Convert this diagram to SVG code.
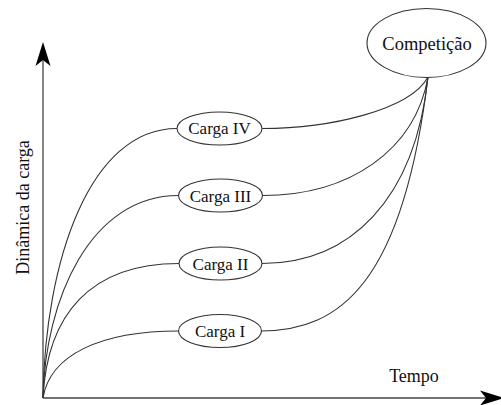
<svg xmlns="http://www.w3.org/2000/svg" width="501" height="405" viewBox="0 0 501 405">
  <defs>
    <style>
      .axis { stroke: #444; stroke-width: 1.3; fill: none; }
      .head { fill: #000; stroke: none; }
      .edge { stroke: #333; stroke-width: 1.1; fill: none; }
      .node ellipse { fill: #fff; stroke: #333; stroke-width: 1.1; }
      .lbl { font-family: "Liberation Serif", "Times New Roman", serif; fill: #111; text-anchor: middle; }
    </style>
  </defs>
  <rect width="501" height="405" fill="#fff"/>

  <!-- axes -->
  <g id="axes">
    <line class="axis" x1="43" y1="398" x2="43" y2="56"/>
    <path class="head" d="M43,42 L50.5,66 L43,60 L35.5,66 Z"/>
    <line class="axis" x1="43" y1="398" x2="490" y2="398"/>
    <path class="head" d="M504,398 L480,390.5 L486,398 L480,405.5 Z"/>
    <text class="lbl" x="414" y="382" font-size="18">Tempo</text>
    <text class="lbl" transform="translate(29,207.5) rotate(-90)" font-size="18">Dinâmica da carga</text>
  </g>

  <!-- connectors: origin to each load, each load to the competition -->
  <g id="connectors">
    <path class="edge" d="M43,398 C50,355 100,331 179,331"/>
    <path class="edge" d="M43,398 C47,315 90,263.5 179,263.5"/>
    <path class="edge" d="M43,398 C45,300 90,195.5 178.5,195.5"/>
    <path class="edge" d="M43,398 C45,260 90,128.5 177,128.5"/>
    <path class="edge" d="M261,331 C340,331 403,283 428,77"/>
    <path class="edge" d="M262,263.5 C350,263.5 415,200 428,77"/>
    <path class="edge" d="M262.5,195.5 C350,195.5 415,150 428,77"/>
    <path class="edge" d="M262,128.5 C330,128.5 410,110 428,77"/>
  </g>

  <g id="carga-1" class="node">
    <ellipse cx="220" cy="331" rx="41.5" ry="16.5"/>
    <text class="lbl" x="220" y="337" font-size="17">Carga I</text>
  </g>
  <g id="carga-2" class="node">
    <ellipse cx="220.5" cy="263.5" rx="41.5" ry="16.5"/>
    <text class="lbl" x="220.5" y="269.5" font-size="17">Carga II</text>
  </g>
  <g id="carga-3" class="node">
    <ellipse cx="220.5" cy="195.5" rx="42" ry="16.5"/>
    <text class="lbl" x="220.5" y="201.5" font-size="17">Carga III</text>
  </g>
  <g id="carga-4" class="node">
    <ellipse cx="219.5" cy="128.5" rx="42.5" ry="16.5"/>
    <text class="lbl" x="219.5" y="134" font-size="17">Carga IV</text>
  </g>
  <g id="competicao" class="node">
    <ellipse cx="426.5" cy="43" rx="59.5" ry="34.5"/>
    <text class="lbl" x="427" y="50" font-size="18.5">Competição</text>
  </g>
</svg>
